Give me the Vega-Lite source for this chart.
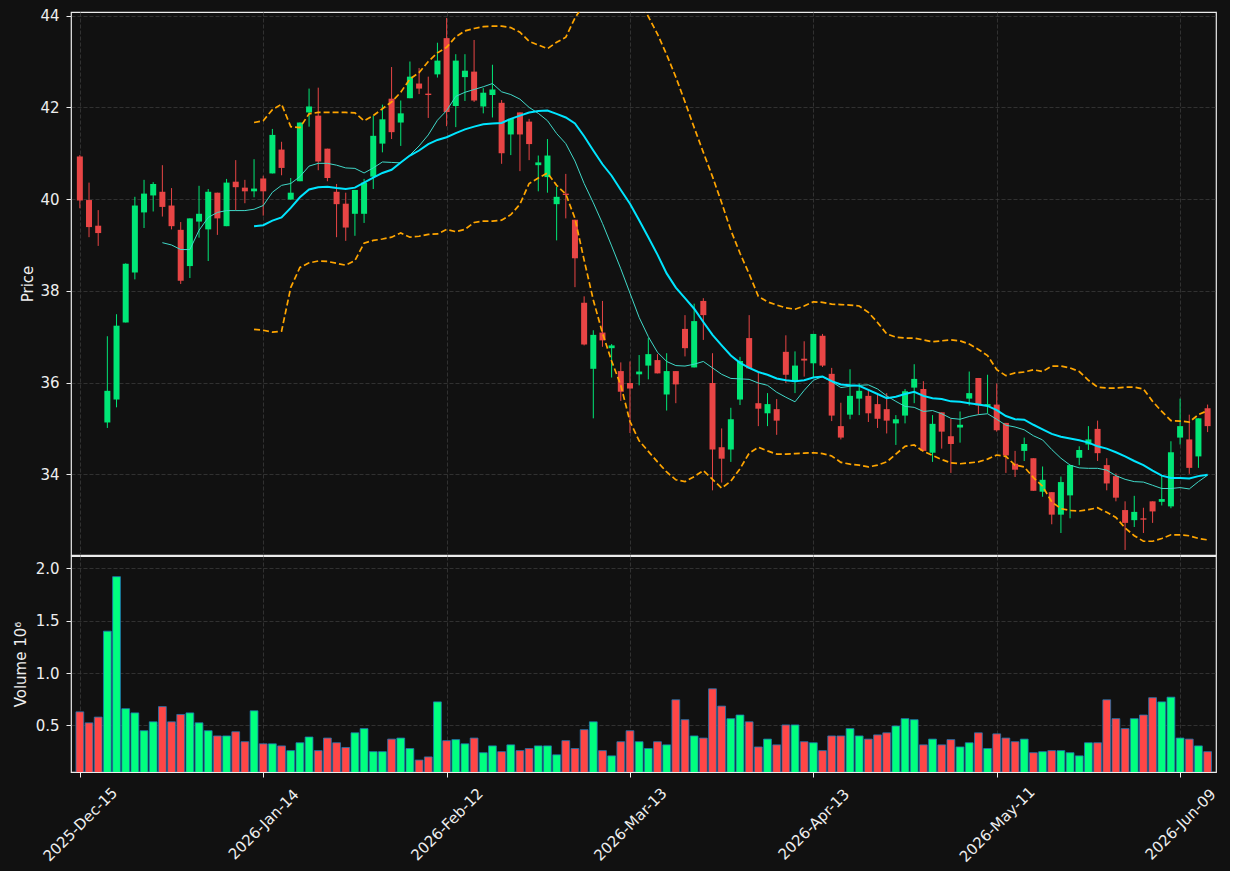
{
"$schema": "https://vega.github.io/schema/vega-lite/v6.json",
"background": "#111111",
"padding": {"left": 12, "top": 8, "right": 10, "bottom": 5},
"spacing": -2,
"config": {
 "view": {"stroke": "#ececec", "strokeWidth": 1.2},
 "axis": {"labelFont": "DejaVu Sans", "titleFont": "DejaVu Sans", "labelFontSize": 15, "titleFontSize": 15, "labelColor": "#eeeeee", "titleColor": "#eeeeee", "titleFontWeight": "normal", "tickColor": "#eeeeee", "tickSize": 5, "domain": false, "gridColor": "#3a3a3a", "gridDash": [4, 2], "gridWidth": 0.8, "labelPadding": 7}
},
"data": {"values": [
{"i":0,"o":40.93,"h":40.96,"l":39.80,"c":39.97,"v":0.63},
{"i":1,"o":39.98,"h":40.36,"l":39.17,"c":39.39,"v":0.525},
{"i":2,"o":39.42,"h":39.76,"l":38.98,"c":39.26,"v":0.58},
{"i":3,"o":35.13,"h":37.01,"l":35.01,"c":35.82,"v":1.40},
{"i":4,"o":35.63,"h":37.49,"l":35.46,"c":37.24,"v":1.92},
{"i":5,"o":37.31,"h":38.60,"l":37.31,"c":38.59,"v":0.66},
{"i":6,"o":38.40,"h":40.05,"l":38.25,"c":39.86,"v":0.62},
{"i":7,"o":39.71,"h":40.42,"l":39.37,"c":40.12,"v":0.45},
{"i":8,"o":40.08,"h":40.37,"l":39.73,"c":40.33,"v":0.535},
{"i":9,"o":40.16,"h":40.74,"l":39.62,"c":39.83,"v":0.68,"ma10":39.05},
{"i":10,"o":39.86,"h":40.24,"l":39.34,"c":39.41,"v":0.535,"ma10":39.00},
{"i":11,"o":39.33,"h":39.50,"l":38.15,"c":38.22,"v":0.605,"ma10":38.90},
{"i":12,"o":38.54,"h":39.58,"l":38.28,"c":39.58,"v":0.62,"ma10":38.90},
{"i":13,"o":39.51,"h":40.29,"l":39.16,"c":39.68,"v":0.525,"ma10":39.32},
{"i":14,"o":39.34,"h":40.22,"l":38.65,"c":40.16,"v":0.45,"ma10":39.60},
{"i":15,"o":40.14,"h":40.14,"l":39.22,"c":39.58,"v":0.40,"ma10":39.71},
{"i":16,"o":39.41,"h":40.44,"l":39.41,"c":40.36,"v":0.40,"ma10":39.75},
{"i":17,"o":40.38,"h":40.85,"l":39.75,"c":40.26,"v":0.44,"ma10":39.75},
{"i":18,"o":40.25,"h":40.42,"l":39.91,"c":40.17,"v":0.345,"ma10":39.75},
{"i":19,"o":40.17,"h":40.87,"l":40.04,"c":40.23,"v":0.64,"ma10":39.78,"ma20":39.41,"bbu":41.67,"bbl":37.16},
{"i":20,"o":40.45,"h":40.51,"l":39.64,"c":40.17,"v":0.325,"ma10":39.86,"ma20":39.43,"bbu":41.71,"bbl":37.14},
{"i":21,"o":40.56,"h":41.53,"l":40.56,"c":41.40,"v":0.325,"ma10":40.15,"ma20":39.53,"bbu":41.95,"bbl":37.10},
{"i":22,"o":41.08,"h":41.25,"l":40.52,"c":40.68,"v":0.305,"ma10":40.30,"ma20":39.60,"bbu":42.07,"bbl":37.12},
{"i":23,"o":39.99,"h":40.46,"l":39.99,"c":40.14,"v":0.26,"ma10":40.34,"ma20":39.81,"bbu":41.58,"bbl":38.07},
{"i":24,"o":40.39,"h":41.67,"l":40.39,"c":41.67,"v":0.335,"ma10":40.49,"ma20":40.04,"bbu":41.56,"bbl":38.51},
{"i":25,"o":41.89,"h":42.41,"l":41.58,"c":42.02,"v":0.39,"ma10":40.72,"ma20":40.21,"bbu":41.86,"bbl":38.61},
{"i":26,"o":41.82,"h":42.43,"l":40.63,"c":40.82,"v":0.26,"ma10":40.78,"ma20":40.26,"bbu":41.89,"bbl":38.65},
{"i":27,"o":41.10,"h":41.10,"l":40.39,"c":40.46,"v":0.38,"ma10":40.78,"ma20":40.27,"bbu":41.89,"bbl":38.64},
{"i":28,"o":40.16,"h":40.33,"l":39.17,"c":39.89,"v":0.335,"ma10":40.74,"ma20":40.24,"bbu":41.89,"bbl":38.60},
{"i":29,"o":39.90,"h":40.14,"l":39.09,"c":39.38,"v":0.29,"ma10":40.68,"ma20":40.22,"bbu":41.89,"bbl":38.56},
{"i":30,"o":39.68,"h":40.20,"l":39.20,"c":40.20,"v":0.43,"ma10":40.67,"ma20":40.25,"bbu":41.88,"bbl":38.66},
{"i":31,"o":39.68,"h":40.44,"l":39.48,"c":40.36,"v":0.47,"ma10":40.57,"ma20":40.36,"bbu":41.71,"bbl":39.04},
{"i":32,"o":40.49,"h":41.82,"l":40.22,"c":41.38,"v":0.25,"ma10":40.68,"ma20":40.47,"bbu":41.82,"bbl":39.10},
{"i":33,"o":41.21,"h":42.06,"l":41.02,"c":41.74,"v":0.25,"ma10":40.81,"ma20":40.57,"bbu":41.97,"bbl":39.13},
{"i":34,"o":42.19,"h":42.88,"l":41.31,"c":41.46,"v":0.37,"ma10":40.80,"ma20":40.64,"bbu":42.12,"bbl":39.17},
{"i":35,"o":41.67,"h":42.15,"l":41.16,"c":41.87,"v":0.38,"ma10":40.79,"ma20":40.80,"bbu":42.33,"bbl":39.26},
{"i":36,"o":42.20,"h":43.00,"l":42.20,"c":42.67,"v":0.28,"ma10":40.96,"ma20":40.95,"bbu":42.62,"bbl":39.17},
{"i":37,"o":42.52,"h":42.86,"l":42.29,"c":42.41,"v":0.17,"ma10":41.16,"ma20":41.06,"bbu":42.76,"bbl":39.19},
{"i":38,"o":42.30,"h":42.67,"l":41.77,"c":42.27,"v":0.20,"ma10":41.40,"ma20":41.20,"bbu":43.00,"bbl":39.23},
{"i":39,"o":42.72,"h":43.41,"l":42.65,"c":43.02,"v":0.725,"ma10":41.72,"ma20":41.29,"bbu":43.19,"bbl":39.24},
{"i":40,"o":43.51,"h":43.95,"l":41.59,"c":41.90,"v":0.355,"ma10":41.93,"ma20":41.35,"bbu":43.31,"bbl":39.34},
{"i":41,"o":42.03,"h":43.16,"l":41.57,"c":43.02,"v":0.365,"ma10":42.24,"ma20":41.44,"bbu":43.54,"bbl":39.29},
{"i":42,"o":42.66,"h":43.16,"l":42.14,"c":42.80,"v":0.325,"ma10":42.33,"ma20":41.52,"bbu":43.67,"bbl":39.34},
{"i":43,"o":42.78,"h":43.47,"l":42.12,"c":42.15,"v":0.38,"ma10":42.39,"ma20":41.58,"bbu":43.72,"bbl":39.49},
{"i":44,"o":42.02,"h":42.42,"l":41.87,"c":42.32,"v":0.24,"ma10":42.45,"ma20":41.63,"bbu":43.76,"bbl":39.52},
{"i":45,"o":42.27,"h":42.93,"l":41.78,"c":42.39,"v":0.305,"ma10":42.52,"ma20":41.65,"bbu":43.77,"bbl":39.52},
{"i":46,"o":42.10,"h":42.16,"l":40.77,"c":41.00,"v":0.25,"ma10":42.34,"ma20":41.66,"bbu":43.77,"bbl":39.54},
{"i":47,"o":41.41,"h":41.75,"l":40.96,"c":41.75,"v":0.315,"ma10":42.28,"ma20":41.75,"bbu":43.74,"bbl":39.66},
{"i":48,"o":41.89,"h":41.89,"l":40.61,"c":41.41,"v":0.26,"ma10":42.18,"ma20":41.82,"bbu":43.64,"bbl":39.89},
{"i":49,"o":41.69,"h":41.75,"l":40.85,"c":41.20,"v":0.28,"ma10":42.00,"ma20":41.89,"bbu":43.44,"bbl":40.34},
{"i":50,"o":40.74,"h":40.95,"l":40.17,"c":40.80,"v":0.305,"ma10":41.87,"ma20":41.92,"bbu":43.36,"bbl":40.46},
{"i":51,"o":40.48,"h":41.31,"l":40.14,"c":40.95,"v":0.305,"ma10":41.71,"ma20":41.93,"bbu":43.28,"bbl":40.57},
{"i":52,"o":39.89,"h":40.27,"l":39.10,"c":40.05,"v":0.22,"ma10":41.43,"ma20":41.86,"bbu":43.42,"bbl":40.30},
{"i":53,"o":40.12,"h":40.55,"l":39.58,"c":40.09,"v":0.355,"ma10":41.21,"ma20":41.78,"bbu":43.53,"bbl":40.11},
{"i":54,"o":39.55,"h":39.55,"l":38.08,"c":38.71,"v":0.28,"ma10":40.83,"ma20":41.65,"bbu":43.95,"bbl":39.58},
{"i":55,"o":37.74,"h":37.88,"l":36.81,"c":36.83,"v":0.46,"ma10":40.34,"ma20":41.37,"bbu":44.25,"bbl":38.67},
{"i":56,"o":36.30,"h":37.14,"l":35.22,"c":37.04,"v":0.535,"ma10":39.92,"ma20":41.06,"bbu":44.42,"bbl":37.80},
{"i":57,"o":37.09,"h":37.78,"l":36.78,"c":36.92,"v":0.26,"ma10":39.47,"ma20":40.76,"bbu":44.55,"bbl":37.08},
{"i":58,"o":36.75,"h":36.84,"l":36.11,"c":36.81,"v":0.21,"ma10":38.98,"ma20":40.51,"bbu":44.62,"bbl":36.47},
{"i":59,"o":36.25,"h":36.44,"l":35.60,"c":35.80,"v":0.345,"ma10":38.48,"ma20":40.20,"bbu":44.65,"bbl":35.94},
{"i":60,"o":35.99,"h":36.46,"l":34.90,"c":35.87,"v":0.45,"ma10":37.95,"ma20":39.90,"bbu":44.65,"bbl":35.15},
{"i":61,"o":36.18,"h":36.60,"l":35.94,"c":36.24,"v":0.345,"ma10":37.42,"ma20":39.54,"bbu":44.38,"bbl":34.73},
{"i":62,"o":36.37,"h":36.97,"l":36.07,"c":36.62,"v":0.28,"ma10":37.00,"ma20":39.17,"bbu":43.98,"bbl":34.50},
{"i":63,"o":36.49,"h":36.62,"l":36.20,"c":36.20,"v":0.345,"ma10":36.66,"ma20":38.79,"bbu":43.60,"bbl":34.27},
{"i":64,"o":35.74,"h":36.64,"l":35.39,"c":36.25,"v":0.315,"ma10":36.46,"ma20":38.38,"bbu":43.15,"bbl":34.05},
{"i":65,"o":36.25,"h":36.25,"l":35.55,"c":35.96,"v":0.745,"ma10":36.37,"ma20":38.07,"bbu":42.66,"bbl":33.88},
{"i":66,"o":37.17,"h":37.47,"l":36.57,"c":36.75,"v":0.555,"ma10":36.36,"ma20":37.84,"bbu":42.12,"bbl":33.84},
{"i":67,"o":36.33,"h":37.72,"l":36.33,"c":37.34,"v":0.40,"ma10":36.40,"ma20":37.61,"bbu":41.56,"bbl":33.95},
{"i":68,"o":37.78,"h":37.84,"l":36.93,"c":37.47,"v":0.38,"ma10":36.46,"ma20":37.32,"bbu":41.02,"bbl":34.08},
{"i":69,"o":35.99,"h":36.64,"l":33.65,"c":34.54,"v":0.85,"ma10":36.32,"ma20":37.04,"bbu":40.49,"bbl":33.89},
{"i":70,"o":34.59,"h":35.00,"l":33.82,"c":34.34,"v":0.685,"ma10":36.18,"ma20":36.81,"bbu":39.92,"bbl":33.70},
{"i":71,"o":34.54,"h":35.45,"l":34.27,"c":35.20,"v":0.565,"ma10":36.09,"ma20":36.59,"bbu":39.32,"bbl":33.85},
{"i":72,"o":35.63,"h":36.56,"l":35.51,"c":36.47,"v":0.60,"ma10":36.08,"ma20":36.43,"bbu":38.82,"bbl":34.12},
{"i":73,"o":36.97,"h":37.47,"l":36.31,"c":36.31,"v":0.535,"ma10":36.07,"ma20":36.32,"bbu":38.37,"bbl":34.46},
{"i":74,"o":35.55,"h":36.21,"l":35.05,"c":35.43,"v":0.295,"ma10":35.99,"ma20":36.23,"bbu":37.88,"bbl":34.59},
{"i":75,"o":35.33,"h":35.77,"l":35.05,"c":35.53,"v":0.37,"ma10":35.94,"ma20":36.17,"bbu":37.76,"bbl":34.51},
{"i":76,"o":35.42,"h":35.64,"l":34.86,"c":35.17,"v":0.315,"ma10":35.79,"ma20":36.09,"bbu":37.69,"bbl":34.44},
{"i":77,"o":36.67,"h":37.03,"l":35.99,"c":36.17,"v":0.505,"ma10":35.68,"ma20":36.05,"bbu":37.63,"bbl":34.44},
{"i":78,"o":36.04,"h":36.68,"l":35.77,"c":36.37,"v":0.505,"ma10":35.58,"ma20":36.03,"bbu":37.60,"bbl":34.45},
{"i":79,"o":36.52,"h":36.90,"l":36.13,"c":36.48,"v":0.345,"ma10":35.83,"ma20":36.05,"bbu":37.67,"bbl":34.46},
{"i":80,"o":36.42,"h":37.06,"l":36.11,"c":37.06,"v":0.335,"ma10":36.05,"ma20":36.11,"bbu":37.76,"bbl":34.47},
{"i":81,"o":37.02,"h":37.06,"l":36.34,"c":36.37,"v":0.26,"ma10":36.13,"ma20":36.13,"bbu":37.75,"bbl":34.45},
{"i":82,"o":36.19,"h":36.32,"l":35.16,"c":35.28,"v":0.40,"ma10":36.02,"ma20":36.03,"bbu":37.71,"bbl":34.40},
{"i":83,"o":35.05,"h":35.56,"l":34.76,"c":34.80,"v":0.40,"ma10":35.89,"ma20":35.96,"bbu":37.70,"bbl":34.26},
{"i":84,"o":35.30,"h":36.29,"l":35.20,"c":35.71,"v":0.47,"ma10":35.92,"ma20":35.94,"bbu":37.69,"bbl":34.22},
{"i":85,"o":35.65,"h":35.98,"l":35.29,"c":35.82,"v":0.40,"ma10":35.94,"ma20":35.93,"bbu":37.67,"bbl":34.20},
{"i":86,"o":35.71,"h":35.83,"l":35.14,"c":35.33,"v":0.37,"ma10":35.95,"ma20":35.84,"bbu":37.53,"bbl":34.16},
{"i":87,"o":35.53,"h":35.75,"l":35.01,"c":35.21,"v":0.41,"ma10":35.86,"ma20":35.75,"bbu":37.31,"bbl":34.20},
{"i":88,"o":35.42,"h":35.77,"l":34.89,"c":35.17,"v":0.43,"ma10":35.71,"ma20":35.66,"bbu":37.06,"bbl":34.27},
{"i":89,"o":35.11,"h":35.29,"l":34.64,"c":35.20,"v":0.495,"ma10":35.59,"ma20":35.69,"bbu":36.99,"bbl":34.44},
{"i":90,"o":35.28,"h":35.86,"l":35.11,"c":35.81,"v":0.565,"ma10":35.48,"ma20":35.75,"bbu":36.97,"bbl":34.61},
{"i":91,"o":35.89,"h":36.40,"l":35.55,"c":36.08,"v":0.555,"ma10":35.46,"ma20":35.80,"bbu":36.97,"bbl":34.64},
{"i":92,"o":35.86,"h":36.03,"l":34.51,"c":34.51,"v":0.315,"ma10":35.37,"ma20":35.71,"bbu":36.93,"bbl":34.50},
{"i":93,"o":34.47,"h":35.29,"l":34.27,"c":35.10,"v":0.37,"ma10":35.39,"ma20":35.66,"bbu":36.89,"bbl":34.41},
{"i":94,"o":35.35,"h":35.35,"l":34.56,"c":34.93,"v":0.315,"ma10":35.32,"ma20":35.64,"bbu":36.91,"bbl":34.32},
{"i":95,"o":34.83,"h":35.21,"l":34.03,"c":34.66,"v":0.365,"ma10":35.22,"ma20":35.59,"bbu":36.93,"bbl":34.25},
{"i":96,"o":35.02,"h":35.37,"l":34.69,"c":35.08,"v":0.295,"ma10":35.20,"ma20":35.58,"bbu":36.91,"bbl":34.23},
{"i":97,"o":35.65,"h":36.24,"l":35.50,"c":35.77,"v":0.335,"ma10":35.26,"ma20":35.55,"bbu":36.84,"bbl":34.25},
{"i":98,"o":36.10,"h":36.10,"l":35.30,"c":35.50,"v":0.43,"ma10":35.30,"ma20":35.52,"bbu":36.72,"bbl":34.27},
{"i":99,"o":35.49,"h":36.17,"l":35.33,"c":35.53,"v":0.28,"ma10":35.32,"ma20":35.49,"bbu":36.59,"bbl":34.33},
{"i":100,"o":35.52,"h":35.98,"l":34.93,"c":34.96,"v":0.42,"ma10":35.20,"ma20":35.40,"bbu":36.28,"bbl":34.42},
{"i":101,"o":35.12,"h":35.12,"l":34.03,"c":34.41,"v":0.38,"ma10":35.07,"ma20":35.27,"bbu":36.15,"bbl":34.39},
{"i":102,"o":34.23,"h":34.51,"l":33.94,"c":34.10,"v":0.345,"ma10":35.03,"ma20":35.20,"bbu":36.21,"bbl":34.20},
{"i":103,"o":34.51,"h":34.80,"l":34.29,"c":34.66,"v":0.37,"ma10":34.97,"ma20":35.19,"bbu":36.23,"bbl":34.16},
{"i":104,"o":34.35,"h":34.35,"l":33.64,"c":33.64,"v":0.24,"ma10":34.84,"ma20":35.08,"bbu":36.28,"bbl":33.93},
{"i":105,"o":33.62,"h":34.17,"l":33.51,"c":33.88,"v":0.25,"ma10":34.75,"ma20":34.98,"bbu":36.24,"bbl":33.74},
{"i":106,"o":33.61,"h":33.61,"l":32.91,"c":33.12,"v":0.26,"ma10":34.54,"ma20":34.88,"bbu":36.36,"bbl":33.40},
{"i":107,"o":33.12,"h":33.95,"l":32.72,"c":33.83,"v":0.26,"ma10":34.35,"ma20":34.82,"bbu":36.36,"bbl":33.25},
{"i":108,"o":33.54,"h":34.20,"l":33.04,"c":34.20,"v":0.24,"ma10":34.20,"ma20":34.78,"bbu":36.32,"bbl":33.21},
{"i":109,"o":34.36,"h":34.61,"l":34.20,"c":34.53,"v":0.21,"ma10":34.14,"ma20":34.74,"bbu":36.24,"bbl":33.20},
{"i":110,"o":34.65,"h":35.05,"l":34.53,"c":34.76,"v":0.335,"ma10":34.13,"ma20":34.69,"bbu":36.05,"bbl":33.23},
{"i":111,"o":34.99,"h":35.17,"l":34.29,"c":34.46,"v":0.335,"ma10":34.13,"ma20":34.61,"bbu":35.90,"bbl":33.27},
{"i":112,"o":34.20,"h":34.35,"l":33.65,"c":33.80,"v":0.745,"ma10":34.09,"ma20":34.56,"bbu":35.88,"bbl":33.17},
{"i":113,"o":33.96,"h":34.02,"l":33.41,"c":33.49,"v":0.565,"ma10":33.97,"ma20":34.48,"bbu":35.88,"bbl":33.06},
{"i":114,"o":33.22,"h":33.41,"l":32.35,"c":32.94,"v":0.47,"ma10":33.89,"ma20":34.39,"bbu":35.90,"bbl":32.83},
{"i":115,"o":33.00,"h":33.53,"l":32.85,"c":33.18,"v":0.565,"ma10":33.84,"ma20":34.29,"bbu":35.90,"bbl":32.66},
{"i":116,"o":33.04,"h":33.27,"l":32.72,"c":33.01,"v":0.60,"ma10":33.83,"ma20":34.20,"bbu":35.86,"bbl":32.54},
{"i":117,"o":33.41,"h":33.41,"l":32.94,"c":33.19,"v":0.765,"ma10":33.76,"ma20":34.08,"bbu":35.59,"bbl":32.54},
{"i":118,"o":33.40,"h":33.97,"l":33.32,"c":33.46,"v":0.725,"ma10":33.69,"ma20":33.97,"bbu":35.37,"bbl":32.60},
{"i":119,"o":33.30,"h":34.72,"l":33.26,"c":34.48,"v":0.77,"ma10":33.69,"ma20":33.92,"bbu":35.17,"bbl":32.68},
{"i":120,"o":34.80,"h":35.65,"l":34.65,"c":35.05,"v":0.38,"ma10":33.71,"ma20":33.92,"bbu":35.16,"bbl":32.68},
{"i":121,"o":34.76,"h":35.30,"l":34.01,"c":34.14,"v":0.37,"ma10":33.68,"ma20":33.91,"bbu":35.14,"bbl":32.66},
{"i":122,"o":34.39,"h":35.22,"l":34.14,"c":35.22,"v":0.305,"ma10":33.84,"ma20":33.96,"bbu":35.30,"bbl":32.60},
{"i":123,"o":35.44,"h":35.52,"l":34.92,"c":35.05,"v":0.25,"ma10":33.98,"ma20":33.99,"bbu":35.39,"bbl":32.57}
]},
"vconcat": [
 {
  "width": 1145, "height": 543,
  "layer": [
   {"mark": {"type": "rule", "strokeWidth": 1},
    "encoding": {
     "x": {"field": "i", "type": "quantitative", "title": null, "scale": {"domain": [-0.42, 123.37], "nice": false, "zero": false},
           "axis": {"values": [0, 20, 40, 60, 80, 100, 120], "labels": false, "ticks": false, "grid": true, "minExtent": 0, "maxExtent": 0, "labelPadding": 0}},
     "y": {"field": "l", "type": "quantitative", "title": "Price", "scale": {"domain": [32.24, 44.08], "nice": false, "zero": false},
           "axis": {"values": [34, 36, 38, 40, 42, 44], "titleX": -44, "titleY": 271.5, "titleAngle": -90, "titleAlign": "center", "titleBaseline": "middle", "grid": true}},
     "y2": {"field": "h"},
     "color": {"condition": {"test": "datum.c >= datum.o", "value": "#00e676"}, "value": "#e84545"}
    }},
   {"mark": {"type": "bar", "size": 6},
    "encoding": {
     "x": {"field": "i", "type": "quantitative", "title": null},
     "y": {"field": "o", "type": "quantitative", "title": "Price"},
     "y2": {"field": "c"},
     "color": {"condition": {"test": "datum.c >= datum.o", "value": "#00e676"}, "value": "#e84545"}
    }},
   {"mark": {"type": "line", "color": "#ffa500", "strokeWidth": 1.7, "strokeDash": [6, 3], "clip": true},
    "encoding": {"x": {"field": "i", "type": "quantitative", "title": null}, "y": {"field": "bbu", "type": "quantitative", "title": "Price"}}},
   {"mark": {"type": "line", "color": "#ffa500", "strokeWidth": 1.7, "strokeDash": [6, 3], "clip": true},
    "encoding": {"x": {"field": "i", "type": "quantitative", "title": null}, "y": {"field": "bbl", "type": "quantitative", "title": "Price"}}},
   {"mark": {"type": "line", "color": "#40d8c8", "strokeWidth": 1, "clip": true},
    "encoding": {"x": {"field": "i", "type": "quantitative", "title": null}, "y": {"field": "ma10", "type": "quantitative", "title": "Price"}}},
   {"mark": {"type": "line", "color": "#00e5ff", "strokeWidth": 2, "clip": true},
    "encoding": {"x": {"field": "i", "type": "quantitative", "title": null}, "y": {"field": "ma20", "type": "quantitative", "title": "Price"}}}
  ]
 },
 {
  "width": 1145, "height": 216,
  "mark": {"type": "bar", "size": 7.8, "stroke": "#1f77b4", "strokeWidth": 0.8, "clip": true},
  "encoding": {
   "x": {"field": "i", "type": "quantitative", "title": null, "scale": {"domain": [-0.42, 123.37], "nice": false, "zero": false},
         "axis": {"values": [0, 20, 40, 60, 80, 100, 120], "grid": true, "labelAngle": -45, "labelAlign": "center", "labelBaseline": "middle", "labelPadding": 47, "labelOverlap": false, "labelFlush": false,
                  "labelExpr": "['2025-Dec-15','2026-Jan-14','2026-Feb-12','2026-Mar-13','2026-Apr-13','2026-May-11','2026-Jun-09'][round(datum.value/20)]"}},
   "y": {"field": "v", "type": "quantitative", "title": "Volume  10⁶", "scale": {"domain": [0.056, 2.117], "nice": false, "zero": false},
         "axis": {"values": [0.5, 1.0, 1.5, 2.0], "format": ".1f", "titleX": -51, "titleY": 108, "titleAngle": -90, "titleAlign": "center", "titleBaseline": "middle", "grid": true}},
   "color": {"condition": {"test": "datum.c >= datum.o", "value": "#00ff7f"}, "value": "#ff4646"}
  }
 }
]
}
